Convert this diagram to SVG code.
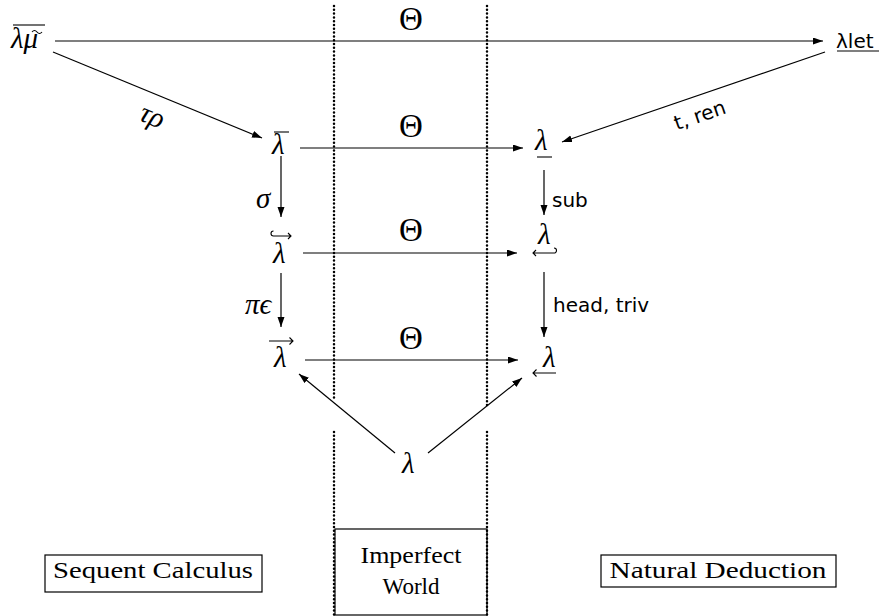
<svg xmlns="http://www.w3.org/2000/svg" width="881" height="616" viewBox="0 0 881 616">
<style>
.m{font-family:"Liberation Serif","DejaVu Serif",serif;font-style:italic;font-size:29px;fill:#000}
.u{font-family:"Liberation Serif","DejaVu Serif",serif;font-size:33px;fill:#000}
.s{font-family:"DejaVu Sans","Liberation Sans",sans-serif;font-size:20px;fill:#000}
.r{font-family:"Liberation Serif","DejaVu Serif",serif;font-size:23px;fill:#000}
.e{stroke:#000;stroke-width:1.2;fill:none;marker-end:url(#ah)}
.d{stroke:#000;stroke-width:1.1;fill:none}
.dot{stroke:#000;stroke-width:2.5;stroke-linecap:round;stroke-dasharray:0 3.8;fill:none}
.box{stroke:#000;stroke-width:1.2;fill:#fff}
</style>
<defs>
<marker id="ah" markerUnits="userSpaceOnUse" markerWidth="11" markerHeight="8" refX="10" refY="3.5" orient="auto">
<path d="M0,0 L10,3.5 L0,7 z" fill="#000"/>
</marker>
</defs>
<rect width="881" height="616" fill="#fff"/>
<g id="world">
<rect class="box" x="335" y="529" width="152" height="86"/>
<path class="dot" d="M334 6 V401 M334 432 V615 M487 6 V407 M487 432 V615"/>
<text class="r" x="411" y="563" text-anchor="middle" textLength="101" lengthAdjust="spacingAndGlyphs">Imperfect</text>
<text class="r" x="411" y="594" text-anchor="middle" textLength="57" lengthAdjust="spacingAndGlyphs">World</text>
</g>
<g id="sequent">
<rect class="box" x="45" y="555" width="217" height="37"/>
<text class="r" x="153" y="578" text-anchor="middle" textLength="200" lengthAdjust="spacingAndGlyphs">Sequent Calculus</text>
</g>
<g id="natural">
<rect class="box" x="601" y="555" width="235" height="32"/>
<text class="r" x="718" y="578" text-anchor="middle" textLength="217" lengthAdjust="spacingAndGlyphs">Natural Deduction</text>
</g>
<g id="lmu">
<text class="m" x="11" y="48">λμ</text>
<line class="d" x1="13" y1="25" x2="45" y2="25"/>
<path class="d" d="M32 32 q2.5 -3 5 0 t5 0"/>
</g>
<g id="llet">
<text class="s" x="836" y="48" font-size="22">λlet</text>
<line class="d" x1="837" y1="51" x2="879" y2="51"/>
</g>
<g id="lbar">
<text class="m" x="272" y="154">λ</text>
<line class="d" x1="274" y1="132" x2="289" y2="132"/>
</g>
<g id="lunder">
<text class="m" x="535" y="150">λ</text>
<line class="d" x1="537" y1="157" x2="552" y2="157"/>
</g>
<g id="lhook">
<text class="m" x="273" y="263">λ</text>
<path class="d" d="M273.5 231 a2.5 2.5 0 0 0 0 5 L291 236 M288 233 L291 236 L288 239"/>
</g>
<g id="lhookr">
<text class="m" x="538" y="244">λ</text>
<path class="d" d="M533 253 L554 253 a2.5 2.5 0 0 0 0 -5 M536 250 L533 253 L536 256"/>
</g>
<g id="larrow">
<text class="m" x="274" y="367">λ</text>
<path class="d" d="M269 341 L293 341 M289.5 337.5 L293 341 L289.5 344.5"/>
</g>
<g id="lleft">
<text class="m" x="543" y="367">λ</text>
<path class="d" d="M533 373 L556 373 M536.5 369.5 L533 373 L536.5 376.5"/>
</g>
<g id="lambda">
<text class="m" x="402" y="473">λ</text>
</g>
<g id="connectors">
<line class="e" x1="55" y1="41" x2="823" y2="41"/>
<text class="u" x="411" y="30" text-anchor="middle">Θ</text>
<line class="e" x1="53" y1="52" x2="262" y2="138"/>
<text class="m" x="152" y="125" text-anchor="middle" transform="rotate(22 152 117)">τρ</text>
<line class="e" x1="825" y1="52" x2="562" y2="142"/>
<text class="s" x="700" y="122" text-anchor="middle" transform="rotate(-19 700 116)">t, ren</text>
<line class="e" x1="300" y1="148" x2="523" y2="148"/>
<text class="u" x="411" y="137" text-anchor="middle">Θ</text>
<line class="e" x1="281" y1="156" x2="281" y2="217"/>
<text class="m" x="256" y="208">σ</text>
<line class="e" x1="544" y1="170" x2="544" y2="215"/>
<text class="s" x="552" y="207">sub</text>
<line class="e" x1="303" y1="253" x2="517" y2="253"/>
<text class="u" x="411" y="241" text-anchor="middle">Θ</text>
<line class="e" x1="281" y1="273" x2="281" y2="327"/>
<text class="m" x="245" y="314">πϵ</text>
<line class="e" x1="544" y1="272" x2="544" y2="337"/>
<text class="s" x="553" y="312">head, triv</text>
<line class="e" x1="305" y1="360" x2="518" y2="360"/>
<text class="u" x="411" y="349" text-anchor="middle">Θ</text>
<line class="e" x1="395" y1="453" x2="299" y2="374"/>
<line class="e" x1="428" y1="453" x2="522" y2="378"/>
</g>
</svg>
